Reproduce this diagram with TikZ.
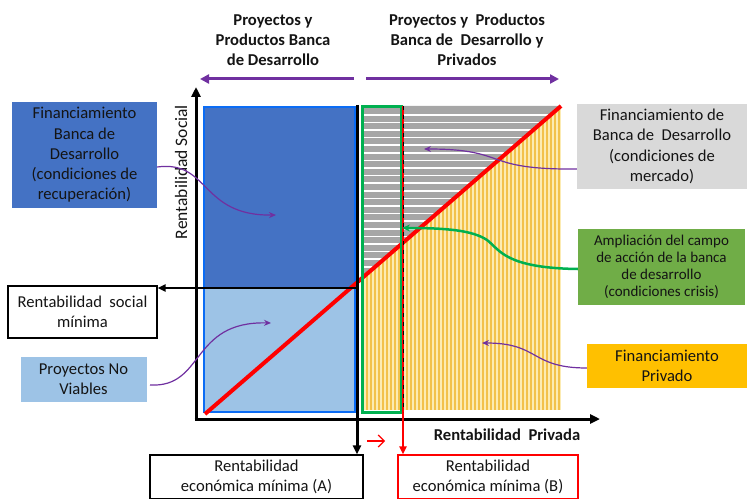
\documentclass[tikz,border=0pt]{standalone}
\usepackage{fontspec}
\setmainfont{Carlito}
\usetikzlibrary{arrows.meta}
\definecolor{pur}{HTML}{7030A0}
\definecolor{gre}{HTML}{00B050}
\definecolor{dblue}{HTML}{4472C4}
\definecolor{lblue}{HTML}{9DC3E6}
\definecolor{bblue}{HTML}{0A6CF5}
\definecolor{lgray}{HTML}{D9D9D9}
\definecolor{mgray}{HTML}{A6A6A6}
\definecolor{lgreen}{HTML}{70AD47}
\definecolor{gold}{HTML}{FFC000}
\definecolor{ystripe}{HTML}{F2C14A}
\definecolor{yback}{HTML}{FCEBB2}
\definecolor{txt}{HTML}{141414}
\definecolor{rred}{HTML}{FF0000}
\begin{document}
\begin{tikzpicture}[x=1pt,y=-1pt,
  txtf/.style={font=\fontsize{16.6}{20.3}\selectfont, text=txt, align=center, inner sep=0pt},
  smallf/.style={font=\fontsize{15}{17}\selectfont, text=txt, align=center, inner sep=0pt},
  hdr/.style={font=\fontsize{16.6}{20}\selectfont\bfseries, text=txt, align=center, inner sep=0pt},
  box/.style={txtf, minimum width=#1},
  purarrow/.style={pur, line width=1.2pt, -{Stealth[length=7pt,width=6pt]}},
  bigpur/.style={pur, line width=3pt, -{Triangle[length=9pt,width=9pt]}},
  axisline/.style={black, line width=3pt, -{Triangle[length=10pt,width=9pt]}}
]
\useasboundingbox (0,0) rectangle (747,500);

% gray horizontal stripes (above the diagonal)
\begin{scope}
  \clip (362,106) -- (561,106) -- (362,278) -- cycle;
  \fill[mgray] (362,100) rectangle (561,282);
  \foreach \yy in {0,...,23}
    \draw[white, line width=1.6pt] (362,{114.8+7.6*\yy}) -- (561,{114.8+7.6*\yy});
\end{scope}
% yellow vertical stripes (below the diagonal)
\begin{scope}
  \clip (362,278) -- (561,106) -- (561,410) -- (362,410) -- cycle;
  \fill[yback] (362,100) rectangle (561,410);
  \foreach \xx in {0,...,50}
    \draw[ystripe, line width=2pt] ({363+4*\xx},100) -- ({363+4*\xx},410);
\end{scope}

% blue region
\fill[dblue] (204,107) rectangle (355,288);
\fill[lblue] (204,288) rectangle (355,412);
\draw[bblue, line width=2.5pt] (204,107) rectangle (355,412);

% diagonal
\draw[rred, line width=4pt] (205,414) -- (561,106);

% green rectangle
\draw[gre, line width=3pt] (362,107) rectangle (401,412);

% boxes
\node[box=145, fill=dblue, minimum height=106] (fbd) at (84.5,155)
  {Financiamiento\\Banca de\\Desarrollo\\(condiciones de\\recuperación)};
\node[box=149, draw=black, line width=1.2pt, fill=white, minimum height=52] (rsm) at (82.5,312)
  {Rentabilidad~ social\\mínima};
\node[box=126, fill=lblue, minimum height=45] (pnv) at (83.5,379.5)
  {Proyectos No\\Viables};
\node[box=170, fill=lgray, minimum height=85] (fbm) at (662,146.5)
  {Financiamiento de\\Banca de~ Desarrollo\\(condiciones de\\mercado)};
\node[smallf, fill=lgreen, minimum width=167, minimum height=76] (amp) at (661.5,267)
  {Ampliación del campo\\de acción de la banca\\de desarrollo\\(condiciones crisis)};
\node[box=160, fill=gold, minimum height=44] (fpr) at (667,366)
  {Financiamiento\\Privado};
\node[box=213, draw=black, line width=1.2pt, minimum height=43.5] (boxA) at (256.5,476.75)
  {Rentabilidad\\económica mínima (A)};
\node[box=180, draw=rred, line width=1.2pt, minimum height=43.5] (boxB) at (488,476.75)
  {Rentabilidad\\económica mínima (B)};

% headers
\node[hdr] (hl) at (273,40) {Proyectos y\\Productos Banca\\de Desarrollo};
\node[hdr] (hr) at (467,40) {Proyectos y~ Productos\\Banca de~ Desarrollo y\\Privados};
\coordinate (pl1) at (354,79);
\coordinate (pl2) at (200,79);
\coordinate (pr1) at (366,79);
\coordinate (pr2) at (559,79);
\draw[bigpur] (pl1) -- (pl2);
\draw[bigpur] (pr1) -- (pr2);

% axes
\coordinate (O) at (196,419);
\coordinate (ytop) at (196,87);
\coordinate (xend) at (600,419);
\draw[axisline] ([yshift=-1.5pt]O) -- (ytop);
\draw[axisline] ([xshift=-1.5pt]O) -- (xend);
\node[txtf, font=\fontsize{17.5}{20}\selectfont, rotate=90] (ylab) at (181,172) {Rentabilidad Social};
\node[hdr] (xlab) at (507,435) {Rentabilidad~ Privada};

% minimum social / economic lines
\coordinate (hS) at (357,288);
\draw[black, line width=2pt, -{Triangle[length=8pt,width=7pt]}] (hS) -- (rsm.east |- hS);
\coordinate (vA) at (357,105);
\draw[black, line width=3pt, -{Triangle[length=9pt,width=8pt]}] (vA) -- (boxA.north -| vA);
\coordinate (vB) at (403,106);
\draw[rred, line width=2pt, -{Triangle[length=8pt,width=7pt]}] (vB) -- (boxB.north -| vB);
\draw[black, line width=0.7pt, dash pattern=on 4pt off 5pt] (vB) -- (403,412);
\coordinate (ra1) at (367,441);
\coordinate (ra2) at (385,441);
\draw[rred, line width=1.2pt, -{Straight Barb[length=6pt,width=12pt]}] (ra1) -- (ra2);

% pointer curves
\coordinate (t1) at (276,215);
\draw[purarrow] (fbd.east |- 0,167) .. controls (210,160) and (200,216) .. (t1);
\coordinate (t2) at (271,323);
\draw[purarrow] (150,385) .. controls (205,388) and (190,321) .. (t2);
\coordinate (t3) at (424,149);
\draw[purarrow] (fbm.west |- 0,169) .. controls (480,170) and (510,149) .. (t3);
\coordinate (t4) at (402,228);
\draw[gre, line width=2.5pt, -{Stealth[length=8pt,width=7pt]}] (amp.west |- 0,269)
  .. controls (505,268) and (500,250) .. (487,240)
  .. controls (472,230) and (445,228) .. (t4);
\coordinate (t5) at (482,343);
\draw[purarrow] (fpr.west |- 0,368) .. controls (530,368) and (540,343) .. (t5);
\end{tikzpicture}
\end{document}
